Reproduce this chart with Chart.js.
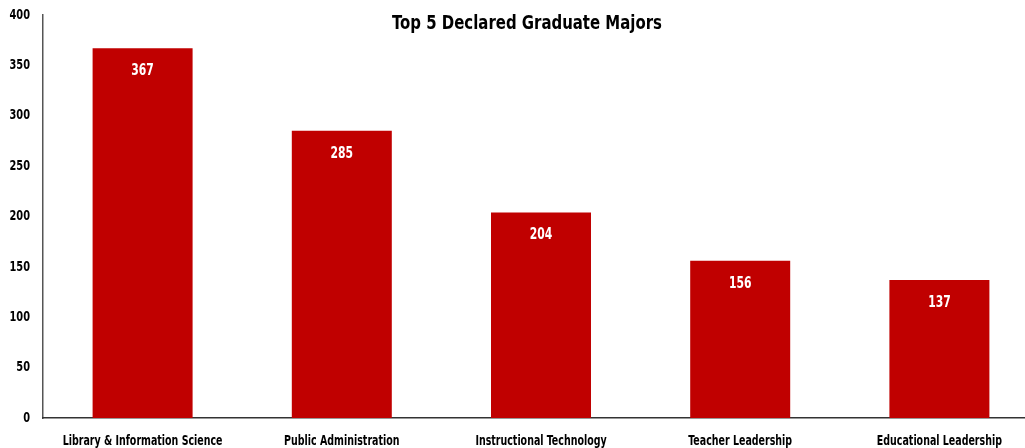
<!DOCTYPE html>
<html>
<head>
<meta charset="utf-8">
<script src="https://cdn.jsdelivr.net/npm/chart.js@4.4.0/dist/chart.umd.min.js"></script>
<style>
  html, body { margin: 0; padding: 0; background: #fff; overflow: hidden; }
  #wrap { width: 1025px; height: 448px; position: relative; overflow: hidden; }
</style>
</head>
<body>
<div id="wrap"><canvas id="c" width="1039" height="448"></canvas></div>
<script>
const majors = [
  'Library & Information Science',
  'Public Administration',
  'Instructional Technology',
  'Teacher Leadership',
  'Educational Leadership'
];
const studentCounts = [367, 285, 204, 156, 137];
const yTicks = [0, 50, 100, 150, 200, 250, 300, 350, 400];
const chartTitle = 'Top 5 Declared Graduate Majors';

const FONT = "'DejaVu Sans Condensed', 'DejaVu Sans', sans-serif";

// Bold text squeezed horizontally to get a narrow, compact face
function drawNarrow(ctx, text, x, y, size, squeeze, color, align) {
  ctx.save();
  ctx.font = 'bold ' + size + 'px ' + FONT;
  ctx.fillStyle = color;
  ctx.textAlign = align || 'center';
  ctx.textBaseline = 'middle';
  ctx.translate(x, y);
  ctx.scale(squeeze, 1);
  ctx.fillText(text, 0, 0);
  ctx.restore();
}

// Axis labels, value labels inside the bars and the title
const labelPlugin = {
  id: 'labels',
  afterDatasetsDraw(chart) {
    const ctx = chart.ctx;
    const meta = chart.getDatasetMeta(0);
    const yScale = chart.scales.y;
    const xScale = chart.scales.x;

    yTicks.forEach(v => {
      drawNarrow(ctx, String(v), 30, yScale.getPixelForValue(v), 14, 0.78, '#000000', 'right');
    });
    majors.forEach((name, i) => {
      drawNarrow(ctx, name, xScale.getPixelForValue(i), 441, 13.5, 0.78, '#000000', 'center');
    });
    meta.data.forEach((bar, i) => {
      drawNarrow(ctx, String(studentCounts[i]), bar.x, bar.y + 23, 15, 0.8, '#ffffff', 'center');
    });
    drawNarrow(ctx, chartTitle, 527, 24, 20, 0.83, '#000000', 'center');
  }
};

new Chart(document.getElementById('c'), {
  type: 'bar',
  data: {
    labels: majors,
    datasets: [{
      data: studentCounts,
      backgroundColor: '#C00000',
      borderWidth: 0,
      categoryPercentage: 1.0,
      barPercentage: 0.502
    }]
  },
  options: {
    responsive: false,
    animation: false,
    layout: { padding: { top: 15, right: 0, bottom: 0, left: 0 } },
    plugins: {
      legend: { display: false },
      tooltip: { enabled: false },
      title: { display: false }
    },
    scales: {
      y: {
        min: 0,
        max: 400,
        afterBuildTicks(axis) { axis.ticks = yTicks.map(v => ({ value: v })); },
        afterFit(axis) { axis.width = 43; },
        grid: { display: false, drawTicks: false },
        border: { display: true, color: '#555555', width: 1.5 },
        ticks: { display: false }
      },
      x: {
        afterFit(axis) { axis.height = 30; },
        grid: { display: false, drawTicks: false },
        border: { display: true, color: '#333333', width: 1.5 },
        ticks: { display: false }
      }
    }
  },
  plugins: [labelPlugin]
});
</script>
</body>
</html>
